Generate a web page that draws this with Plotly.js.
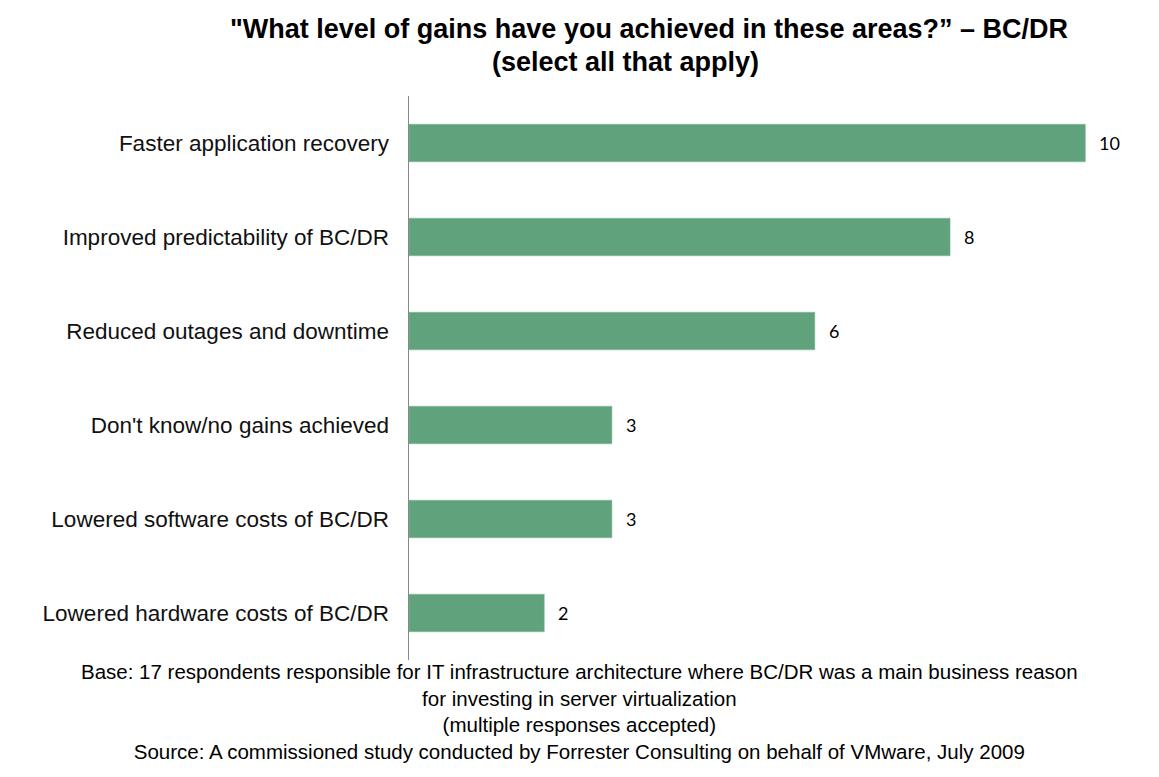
<!DOCTYPE html>
<html>
<head>
<meta charset="utf-8">
<script src="https://cdn.plot.ly/plotly-3.0.1.min.js"></script>
<style>html,body{margin:0;padding:0;background:#fff;}#chart{width:1159px;height:777px;}</style>
</head>
<body>
<div id="chart"></div>
<script>
const categories = [
  "Faster application recovery",
  "Improved predictability of BC/DR",
  "Reduced outages and downtime",
  "Don't know/no gains achieved",
  "Lowered software costs of BC/DR",
  "Lowered hardware costs of BC/DR"
];
const values = [10, 8, 6, 3, 3, 2];
const titleLines = [
  "\"What level of gains have you achieved in these areas?\u201d \u2013 BC/DR",
  "(select all that apply)"
];
const footerLines = [
  "Base: 17 respondents responsible for IT infrastructure architecture where BC/DR was a main business reason",
  "for investing in server virtualization",
  "(multiple responses accepted)",
  "Source: A commissioned study conducted by Forrester Consulting on behalf of VMware, July 2009"
];

const W = 1159, H = 777;
const mL = 409, mR = 6.4, mT = 96, mB = 117;
const plotW = W - mL - mR, plotH = H - mT - mB;
const px2x = px => (px - mL) / plotW;
const py2y = py => (H - mB - py) / plotH;

const annotations = [];
values.forEach((v, i) => {
  annotations.push({
    x: v, y: categories[i], xref: 'x', yref: 'y',
    text: String(v), showarrow: false, xanchor: 'left', yanchor: 'middle',
    xshift: 12, font: {family: 'Lato, "Open Sans", sans-serif', size: 18, color: '#000'}
  });
});
const titlePos = [[649, 29], [625, 62]];
titleLines.forEach((t, i) => {
  annotations.push({
    x: px2x(titlePos[i][0]), y: py2y(titlePos[i][1]), xref: 'paper', yref: 'paper',
    text: '<b>' + t + '</b>', showarrow: false,
    xanchor: 'center', yanchor: 'middle',
    font: {family: '"Liberation Sans", Arial, sans-serif', size: 27, color: '#000'}
  });
});
annotations.push({
  x: px2x(579), y: py2y(711), xref: 'paper', yref: 'paper',
  text: footerLines.join('<br>'), showarrow: false, xanchor: 'center', yanchor: 'middle',
  align: 'center',
  font: {family: '"Liberation Sans", Arial, sans-serif', size: 20.5, color: '#000'}
});

const trace = {
  type: 'bar', orientation: 'h',
  x: values, y: categories,
  marker: {color: '#5fa27b', line: {color: '#7fb897', width: 0.5}},
  hoverinfo: 'none'
};

const layout = {
  width: W, height: H,
  margin: {l: mL, r: mR, t: mT, b: mB, pad: 0},
  paper_bgcolor: '#fff', plot_bgcolor: '#fff',
  showlegend: false,
  bargap: 0.6,
  xaxis: {range: [0, 11], visible: false, fixedrange: true},
  yaxis: {
    autorange: 'reversed', showline: true, linecolor: '#888', linewidth: 1.5,
    showgrid: false, zeroline: false, ticks: '', ticklabelstandoff: 14,
    tickfont: {family: '"Liberation Sans", Arial, sans-serif', size: 22.5, color: '#111'},
    fixedrange: true
  },
  annotations: annotations
};

Plotly.newPlot('chart', [trace], layout, {displayModeBar: false, staticPlot: true});
</script>
</body>
</html>
